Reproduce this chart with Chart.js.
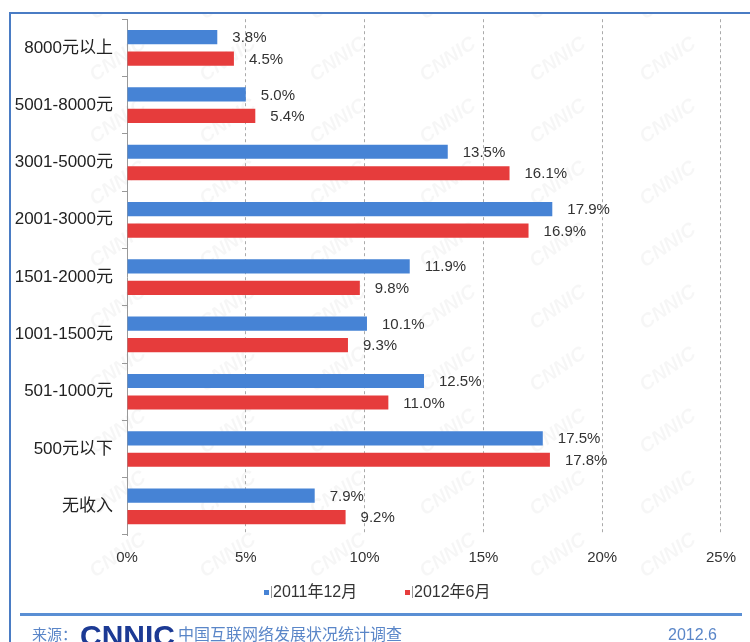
<!DOCTYPE html>
<html>
<head>
<meta charset="utf-8">
<script src="https://cdn.jsdelivr.net/npm/chart.js@4.4.0/dist/chart.umd.min.js"></script>
<style>
  body { margin: 0; background: #fff; }
  #incomeChart { display: block; }
</style>
</head>
<body>
<canvas id="incomeChart" width="750" height="642"></canvas>
<script>
// data
var categories = ['8000元以上', '5001-8000元', '3001-5000元', '2001-3000元', '1501-2000元', '1001-1500元', '501-1000元', '500元以下', '无收入'];
var seriesNames = ['2011年12月', '2012年6月'];
var dec2011 = [3.8, 5.0, 13.5, 17.9, 11.9, 10.1, 12.5, 17.5, 7.9];
var jun2012 = [4.5, 5.4, 16.1, 16.9, 9.8, 9.3, 11.0, 17.8, 9.2];
var xTicks = [0, 5, 10, 15, 20, 25];
var sourceText = '来源：';
var sourceOrg = 'CNNIC';
var sourceSurvey = '中国互联网络发展状况统计调查';
var sourceDate = '2012.6';

var FONT = "'Liberation Sans', 'Noto Sans CJK SC', sans-serif";
var blue = '#4683d5';
var red = '#e63c3c';

// faint watermark behind the bars
var watermark = {
  id: 'watermark',
  beforeDraw: function (chart) {
    var ctx = chart.ctx;
    ctx.save();
    ctx.fillStyle = 'rgba(0,0,0,0.035)';
    ctx.font = 'bold italic 20px ' + FONT;
    for (var y = 20; y < 620; y += 62) {
      for (var x = 40; x < 760; x += 110) {
        ctx.save();
        ctx.translate(x + (y % 124 ? 55 : 0), y);
        ctx.rotate(-0.6);
        ctx.fillText('CNNIC', 0, 0);
        ctx.restore();
      }
    }
    ctx.restore();
  }
};

// value labels, legend, frame and footer
var decorations = {
  id: 'decorations',
  afterDatasetsDraw: function (chart) {
    var ctx = chart.ctx;
    ctx.save();
    ctx.font = '15px ' + FONT;
    ctx.fillStyle = '#333';
    ctx.textBaseline = 'middle';
    chart.data.datasets.forEach(function (ds, i) {
      chart.getDatasetMeta(i).data.forEach(function (bar, j) {
        ctx.fillText(ds.data[j].toFixed(1) + '%', bar.x + 15, bar.y + 1);
      });
    });
    ctx.restore();
  },
  afterDraw: function (chart) {
    var ctx = chart.ctx;
    ctx.save();
    // legend
    ctx.font = '16px ' + FONT;
    ctx.textBaseline = 'middle';
    var lx = [264, 405];
    chart.data.datasets.forEach(function (ds, i) {
      ctx.fillStyle = ds.backgroundColor;
      ctx.fillRect(lx[i], 590, 5, 5);
      ctx.fillStyle = '#999';
      ctx.fillRect(lx[i] + 7, 586, 1, 12);
      ctx.fillStyle = '#333';
      ctx.fillText(ds.label, lx[i] + 9, 593);
    });
    // frame
    ctx.fillStyle = '#fff';
    ctx.fillRect(0, 0, 11, 642);
    ctx.fillRect(0, 0, 750, 12);
    ctx.fillStyle = '#4a7cc4';
    ctx.fillRect(10, 12, 740, 2);
    ctx.fillRect(9, 12, 2, 630);
    // footer
    ctx.fillStyle = '#5a8fd4';
    ctx.fillRect(20, 613, 722, 3);
    ctx.fillStyle = '#5a86c8';
    ctx.font = '15px ' + FONT;
    ctx.textBaseline = 'alphabetic';
    ctx.fillText(sourceText, 32, 640);
    ctx.fillStyle = '#1c3a94';
    ctx.font = 'bold 30px ' + FONT;
    ctx.fillText(sourceOrg, 80, 646);
    ctx.fillStyle = '#5a86c8';
    ctx.font = '16px ' + FONT;
    ctx.fillText(sourceSurvey, 178, 640);
    ctx.fillText(sourceDate, 668, 640);
    ctx.restore();
  }
};

var ctx = document.getElementById('incomeChart').getContext('2d');
var incomeChart = new Chart(ctx, {
  type: 'bar',
  data: {
    labels: categories,
    datasets: [{
      label: seriesNames[0],
      data: dec2011,
      backgroundColor: blue
    }, {
      label: seriesNames[1],
      data: jun2012,
      backgroundColor: red
    }]
  },
  options: {
    indexAxis: 'y',
    responsive: false,
    animation: false,
    categoryPercentage: 0.75,
    barPercentage: 0.66,
    layout: {
      padding: { top: 8, right: 28, bottom: 0, left: 0 }
    },
    plugins: {
      legend: { display: false },
      tooltip: { enabled: false }
    },
    scales: {
      x: {
        min: 0,
        max: 25,
        afterFit: function (scale) { scale.height = 107; },
        afterBuildTicks: function (scale) {
          scale.ticks = xTicks.map(function (v) { return { value: v }; });
        },
        grid: {
          color: function (c) { return c.tick.value === 0 ? 'rgba(0,0,0,0)' : '#aaa'; },
          drawTicks: false
        },
        border: { display: false, dash: [3, 3] },
        ticks: {
          padding: 14,
          color: '#333',
          font: { family: FONT, size: 15 },
          callback: function (v) { return v + '%'; }
        }
      },
      y: {
        afterFit: function (scale) { scale.width = 127; },
        border: { display: true, color: '#999', width: 1 },
        grid: {
          drawOnChartArea: false,
          drawTicks: true,
          tickLength: 5,
          color: '#999'
        },
        ticks: {
          padding: 9,
          color: '#222',
          font: { family: FONT, size: 17 }
        }
      }
    }
  },
  plugins: [watermark, decorations]
});
</script>
</body>
</html>
